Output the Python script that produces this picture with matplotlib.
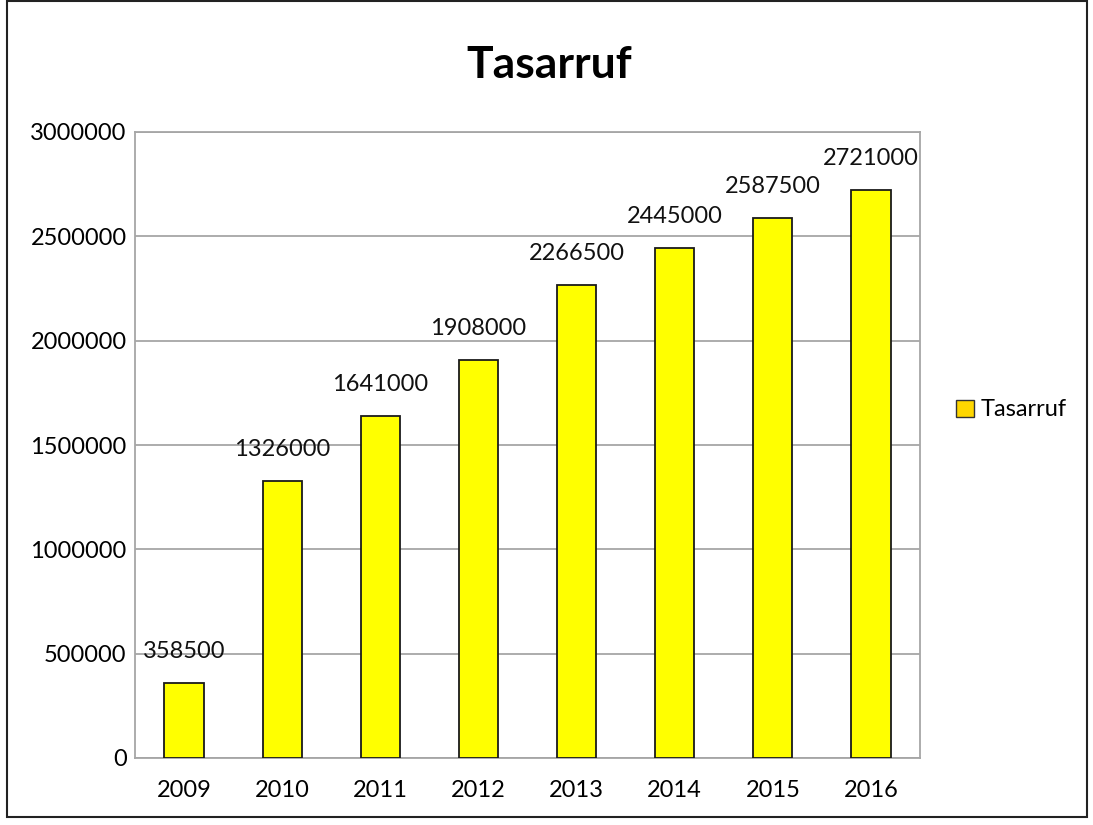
import matplotlib
matplotlib.use("Agg")
import matplotlib.pyplot as plt
from matplotlib.patches import Rectangle

# Data
years = ["2009", "2010", "2011", "2012", "2013", "2014", "2015", "2016"]
savings = [358500, 1326000, 1641000, 1908000, 2266500, 2445000, 2587500, 2721000]
yticks = [0, 500000, 1000000, 1500000, 2000000, 2500000, 3000000]

plt.rcParams["font.family"] = ["Lato", "DejaVu Sans"]

fig = plt.figure(figsize=(10.93, 8.25), dpi=100)
W, H = 1093, 825
# axes placed in pixel coordinates of the reference
ax = fig.add_axes([135 / W, 1 - 758 / H, (920 - 135) / W, (758 - 132) / H])

x = range(len(years))
ax.bar(x, savings, width=0.40, color="#FFFF00", edgecolor="#1a1a1a", linewidth=1.3,
       zorder=3, label="Tasarruf")

for i, v in enumerate(savings):
    ax.annotate(str(v), (i, v), xytext=(0, 15), textcoords="offset points",
                ha="center", va="bottom", fontsize=17, color="#111111")

ax.set_xlim(-0.5, len(years) - 0.5)
ax.set_ylim(0, 3000000)
ax.set_yticks(yticks)
ax.set_yticklabels([str(t) for t in yticks], fontsize=17)
ax.set_xticks(list(x))
ax.set_xticklabels(years, fontsize=17)
ax.tick_params(axis="y", length=0, pad=6)
ax.tick_params(axis="x", length=0, pad=16)
ax.grid(axis="y", color="#a6a6a6", linewidth=1.3, zorder=0)
for s in ax.spines.values():
    s.set_color("#a6a6a6")
    s.set_linewidth(1.3)

fig.text(549 / W, 1 - 65 / H, "Tasarruf", ha="center", va="center",
         fontsize=32, fontweight="bold")

# legend
leg = fig.legend(handles=[Rectangle((0, 0), 1, 1, facecolor="#FFD700", edgecolor="#333333")],
                 labels=["Tasarruf"], loc="center left",
                 bbox_to_anchor=(935 / W, 1 - 410 / H), frameon=False, fontsize=17,
                 handlelength=0.75, handleheight=0.75, handletextpad=0.3)

# outer chart border
fig.patches.append(Rectangle((7 / W, 1 - 817 / H), 1080 / W, 816 / H,
                             transform=fig.transFigure, fill=False,
                             edgecolor="#222222", linewidth=1.5))

fig.savefig("out.png", dpi=100)
